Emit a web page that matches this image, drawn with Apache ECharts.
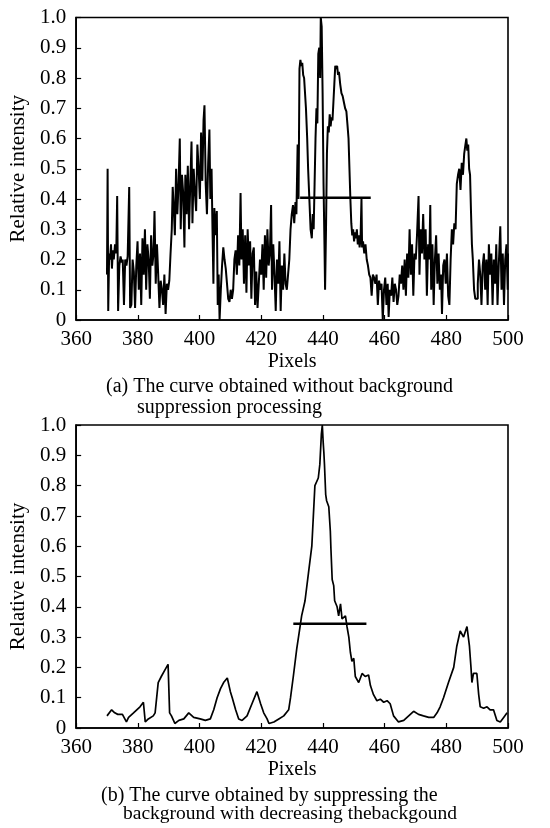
<!DOCTYPE html>
<html><head><meta charset="utf-8">
<script src="https://cdn.jsdelivr.net/npm/echarts@6/dist/echarts.min.js"></script>
<style>html,body{margin:0;padding:0;background:#fff}#c{width:550px;height:828px}</style>
</head><body><div id="c"></div>
<script>
// ---------- data ----------
const xTicks = [360,380,400,420,440,460,480,500];
const yTickLabels = ['0','0.1','0.2','0.3','0.4','0.5','0.6','0.7','0.8','0.9','1.0'];
const xName = 'Pixels';
const yName = 'Relative intensity';
const captionA = ['(a) The curve obtained without background', 'suppression processing'];
const captionB = ['(b) The curve obtained by suppressing the', 'background with decreasing thebackgound'];

// curve (a): without background suppression [pixel, relative intensity]
const curveA = [
[370.0,0.15],[370.2,0.5],[370.4,0.03],[370.7,0.22],[371.0,0.2],[371.3,0.25],[371.6,0.17],[371.9,0.23],[372.2,0.2],[372.6,0.25],
[373.0,0.22],[373.3,0.41],[373.6,0.03],[374.0,0.18],[374.4,0.21],[374.8,0.19],[375.1,0.2],[375.5,0.05],[375.9,0.2],[376.3,0.18],
[376.7,0.21],[377.2,0.44],[377.5,0.04],[377.9,0.05],[378.3,0.2],[378.7,0.16],[379.1,0.04],[379.5,0.18],[379.9,0.26],[380.3,0.1],
[380.7,0.22],[381.1,0.05],[381.5,0.27],[381.9,0.15],[382.3,0.3],[382.7,0.1],[383.1,0.25],[383.5,0.2],[383.9,0.07],[384.3,0.28],
[384.7,0.18],[385.1,0.22],[385.4,0.36],[385.8,0.12],[386.2,0.25],[386.6,0.15],[387.0,0.04],[387.4,0.13],[387.8,0.1],[388.2,0.05],
[388.6,0.15],[389.0,0.02],[389.4,0.12],[389.8,0.1],[390.2,0.13],[390.6,0.22],[391.0,0.3],[391.3,0.44],[391.6,0.38],[392.0,0.28],
[392.4,0.5],[392.8,0.35],[393.2,0.45],[393.6,0.6],[393.9,0.3],[394.3,0.48],[394.7,0.42],[395.1,0.24],[395.4,0.48],[395.8,0.35],
[396.2,0.51],[396.6,0.3],[397.0,0.45],[397.4,0.59],[397.7,0.32],[398.1,0.5],[398.5,0.42],[398.9,0.36],[399.3,0.58],[399.7,0.5],
[400.1,0.4],[400.5,0.62],[400.9,0.46],[401.3,0.66],[401.6,0.71],[402.0,0.45],[402.4,0.35],[402.8,0.52],[403.2,0.63],[403.5,0.4],
[403.9,0.5],[404.2,0.3],[404.5,0.12],[404.8,0.37],[405.2,0.28],[405.6,0.36],[405.9,0.05],[406.2,0.15],[406.5,0.0],[406.9,0.1],
[407.3,0.18],[407.7,0.24],[408.1,0.2],[408.5,0.17],[408.9,0.12],[409.3,0.07],[409.7,0.06],[410.1,0.1],[410.5,0.07],[410.9,0.1],
[411.3,0.2],[411.7,0.23],[412.1,0.15],[412.5,0.28],[412.9,0.18],[413.3,0.42],[413.6,0.2],[414.0,0.3],[414.4,0.12],[414.8,0.28],
[415.2,0.09],[415.6,0.3],[416.0,0.18],[416.4,0.26],[416.8,0.07],[417.2,0.22],[417.6,0.24],[418.0,0.05],[418.4,0.16],[418.8,0.04],
[419.2,0.12],[419.6,0.2],[420.0,0.15],[420.4,0.25],[420.8,0.1],[421.2,0.28],[421.6,0.14],[422.0,0.3],[422.4,0.18],[422.8,0.22],
[423.2,0.38],[423.5,0.1],[423.9,0.25],[424.3,0.15],[424.7,0.03],[425.1,0.2],[425.5,0.12],[425.9,0.26],[426.3,0.03],[426.7,0.18],
[427.1,0.1],[427.5,0.22],[427.9,0.12],[428.3,0.1],[428.7,0.15],[429.1,0.2],[429.5,0.3],[429.9,0.35],[430.3,0.38],[430.7,0.32],
[431.1,0.39],[431.4,0.35],[431.8,0.58],[432.1,0.4],[432.4,0.83],[432.7,0.86],[433.0,0.84],[433.3,0.85],[433.6,0.81],[433.9,0.8],
[434.3,0.8],[434.5,0.7],[434.9,0.6],[435.2,0.5],[435.6,0.4],[436.0,0.3],[436.4,0.27],[436.7,0.35],[437.0,0.3],[437.3,0.45],
[437.6,0.6],[437.9,0.7],[438.2,0.65],[438.5,0.88],[438.8,0.9],[439.1,0.8],[439.3,1.0],[439.6,0.97],[439.9,0.75],[440.2,0.45],
[440.5,0.25],[440.7,0.1],[441.0,0.3],[441.3,0.55],[441.6,0.64],[441.9,0.62],[442.2,0.68],[442.5,0.64],[442.8,0.67],[443.1,0.66],
[443.4,0.72],[443.7,0.78],[444.0,0.84],[444.3,0.83],[444.6,0.84],[444.9,0.81],[445.2,0.82],[445.6,0.78],[446.0,0.75],[446.4,0.74],
[446.8,0.72],[447.2,0.7],[447.6,0.69],[448.0,0.64],[448.3,0.6],[448.6,0.5],[448.9,0.4],[449.2,0.32],[449.5,0.28],[449.8,0.3],
[450.1,0.26],[450.4,0.29],[450.7,0.27],[451.0,0.3],[451.3,0.25],[451.6,0.28],[451.9,0.24],[452.2,0.27],[452.5,0.4],[452.7,0.24],
[453.0,0.26],[453.4,0.22],[453.8,0.25],[454.2,0.2],[454.6,0.18],[455.0,0.15],[455.4,0.14],[455.8,0.08],[456.2,0.15],[456.6,0.14],
[457.0,0.12],[457.4,0.15],[457.8,0.05],[458.2,0.13],[458.6,0.1],[459.0,0.12],[459.4,0.0],[459.8,0.1],[460.2,0.14],[460.6,0.05],
[461.0,0.12],[461.3,0.01],[461.7,0.1],[462.1,0.08],[462.5,0.14],[462.9,0.06],[463.3,0.12],[463.7,0.1],[464.1,0.05],[464.5,0.08],
[464.9,0.15],[465.3,0.12],[465.7,0.18],[466.1,0.1],[466.5,0.2],[466.9,0.08],[467.3,0.22],[467.7,0.14],[468.1,0.3],[468.5,0.15],
[468.9,0.25],[469.3,0.08],[469.7,0.22],[470.1,0.2],[470.5,0.28],[471.0,0.41],[471.3,0.15],[471.7,0.3],[472.1,0.22],[472.5,0.35],
[472.9,0.2],[473.3,0.3],[473.7,0.08],[474.1,0.25],[474.5,0.2],[474.8,0.38],[475.1,0.1],[475.5,0.25],[475.9,0.05],[476.3,0.2],
[476.7,0.28],[477.1,0.12],[477.5,0.22],[477.9,0.1],[478.3,0.15],[478.6,0.02],[479.0,0.18],[479.4,0.2],[479.8,0.12],[480.2,0.22],
[480.6,0.08],[481.0,0.05],[481.4,0.2],[481.8,0.3],[482.2,0.25],[482.6,0.32],[483.0,0.3],[483.4,0.45],[483.8,0.48],[484.2,0.5],
[484.6,0.43],[485.0,0.52],[485.4,0.48],[485.8,0.55],[486.2,0.58],[486.5,0.6],[486.8,0.56],[487.1,0.58],[487.4,0.5],[487.7,0.48],
[488.0,0.36],[488.3,0.25],[488.6,0.2],[489.0,0.1],[489.4,0.07],[489.8,0.07],[490.2,0.12],[490.6,0.2],[491.0,0.15],[491.4,0.05],
[491.8,0.18],[492.2,0.22],[492.6,0.1],[493.0,0.2],[493.4,0.05],[493.8,0.25],[494.2,0.15],[494.6,0.22],[495.0,0.05],[495.4,0.2],
[495.8,0.12],[496.2,0.25],[496.6,0.05],[497.0,0.18],[497.5,0.31],[497.9,0.1],[498.3,0.22],[498.7,0.05],[499.1,0.2],[499.5,0.25],
[499.9,0.1],[500.0,0.22]
];
// half-maximum marker of (a)
const markA = [[432.6,0.404],[455.5,0.404]];

// curve (b): background suppressed [pixel, relative intensity]
const curveB = [
[370.0,0.04],[371.5,0.06],[372.5,0.05],[373.5,0.045],[375.0,0.045],[376.3,0.02],[377.0,0.035],[378.6,0.05],[380.7,0.07],[381.8,0.085],
[382.4,0.02],[383.4,0.03],[385.0,0.04],[385.6,0.05],[386.6,0.15],[387.6,0.17],[388.7,0.19],[389.8,0.21],[390.3,0.05],[390.9,0.04],
[392.0,0.015],[393.3,0.025],[394.9,0.03],[396.5,0.05],[398.1,0.035],[400.2,0.03],[401.9,0.025],[403.5,0.03],[404.6,0.06],[405.7,0.1],
[406.8,0.13],[407.8,0.15],[409.0,0.165],[410.0,0.12],[410.6,0.1],[411.7,0.06],[412.7,0.03],[413.8,0.025],[415.4,0.04],[417.0,0.08],
[418.6,0.12],[419.8,0.08],[420.8,0.05],[421.9,0.03],[422.5,0.015],[424.1,0.02],[425.7,0.03],[427.3,0.04],[428.9,0.06],[429.5,0.1],
[430.4,0.17],[431.5,0.26],[432.6,0.335],[433.1,0.37],[434.2,0.42],[435.3,0.51],[436.4,0.6],[436.9,0.7],[437.4,0.8],[438.5,0.825],
[439.0,0.87],[439.5,0.97],[439.8,1.0],[440.1,0.94],[440.3,0.91],[440.5,0.87],[440.9,0.77],[441.2,0.75],[441.9,0.73],[442.4,0.65],
[442.6,0.59],[443.0,0.49],[443.5,0.47],[443.8,0.42],[444.6,0.4],[445.1,0.37],[445.7,0.41],[446.2,0.36],[447.3,0.37],[447.8,0.335],
[448.4,0.3],[448.9,0.25],[449.4,0.22],[450.0,0.23],[450.5,0.17],[451.6,0.15],[452.7,0.18],[453.7,0.17],[454.8,0.175],[455.4,0.14],
[456.4,0.11],[457.5,0.09],[458.6,0.095],[459.7,0.085],[460.8,0.09],[461.8,0.08],[462.9,0.04],[464.5,0.02],[466.2,0.025],[467.8,0.04],
[469.4,0.055],[471.0,0.045],[472.6,0.04],[474.3,0.035],[475.9,0.035],[477.0,0.05],[478.0,0.07],[479.1,0.1],[480.7,0.15],[482.4,0.2],
[483.4,0.27],[484.5,0.32],[485.6,0.3],[486.7,0.335],[487.5,0.27],[488.0,0.2],[488.3,0.15],[488.8,0.18],[489.9,0.18],[490.5,0.11],
[491.0,0.07],[492.1,0.065],[493.2,0.07],[494.2,0.06],[495.3,0.06],[496.4,0.025],[497.5,0.02],[498.6,0.035],[499.7,0.05]
];
// half-maximum marker of (b)
const markB = [[430.4,0.344],[454.1,0.344]];

// ---------- chart ----------
const FONT = '"Liberation Serif","DejaVu Serif",serif';
const tickTxt = {color:'#000', fontFamily:FONT, fontSize:21};
const nameTxt = {color:'#000', fontFamily:FONT, fontSize:20};

function xAxisCfg(gi){
  return {
    gridIndex:gi, type:'value', min:xTicks[0], max:xTicks[xTicks.length-1], interval:20,
    name:xName, nameLocation:'middle', nameGap:32, nameTextStyle:nameTxt,
    axisLine:{show:true, onZero:false, lineStyle:{color:'#000', width:1.6}},
    axisTick:{show:true, inside:true, length:5, lineStyle:{color:'#000', width:1.2}},
    axisLabel:{...tickTxt, margin:9},
    splitLine:{show:false}
  };
}
function yAxisCfg(gi){
  return {
    gridIndex:gi, type:'value', min:0, max:1, interval:0.1,
    name:yName, nameLocation:'middle', nameRotate:90, nameGap:46, nameTextStyle:{...nameTxt, fontSize:21},
    axisLine:{show:true, lineStyle:{color:'#000', width:1.6}},
    axisTick:{show:true, inside:true, length:5, lineStyle:{color:'#000', width:1.2}},
    axisLabel:{...tickTxt, margin:10, formatter:(v)=>yTickLabels[Math.round(v*10)]},
    splitLine:{show:false}
  };
}
function lineSeries(gi, data, w, step){
  return {type:'line', xAxisIndex:gi, yAxisIndex:gi, data:data, showSymbol:false, symbol:'none',
    step:step, animation:false, silent:true, lineStyle:{color:'#000', width:w}};
}

const chart = echarts.init(document.getElementById('c'), null, {renderer:'canvas'});
chart.setOption({
  backgroundColor:'#fff',
  animation:false,
  grid:[
    {left:76, top:17.5, width:432, height:302.5, show:true, borderColor:'#000', borderWidth:1.6, backgroundColor:'transparent'},
    {left:76, top:425, width:432, height:303, show:true, borderColor:'#000', borderWidth:1.6, backgroundColor:'transparent'}
  ],
  xAxis:[xAxisCfg(0), xAxisCfg(1)],
  yAxis:[yAxisCfg(0), yAxisCfg(1)],
  series:[
    lineSeries(0, curveA, 2, 'end'),
    lineSeries(0, markA, 2.6, false),
    lineSeries(1, curveB, 1.7, false),
    lineSeries(1, markB, 2.6, false)
  ],
  graphic:[
    {type:'text', left:106, top:377, style:{text:captionA[0], font:'20px '+FONT, fill:'#000'}},
    {type:'text', left:137, top:398, style:{text:captionA[1], font:'20px '+FONT, fill:'#000'}},
    {type:'text', left:101, top:786, style:{text:captionB[0], font:'20px '+FONT, fill:'#000'}},
    {type:'text', left:123, top:804, style:{text:captionB[1], font:'19.5px '+FONT, fill:'#000'}}
  ]
});
</script>
</body></html>
